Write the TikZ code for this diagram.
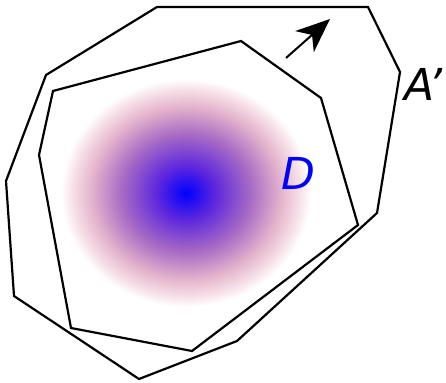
\documentclass[tikz,border=0pt]{standalone}
\usepackage{fontspec}
\setmainfont{DejaVu Sans}
\usetikzlibrary{arrows.meta}
\definecolor{dcore}{RGB}{95,40,220}
\definecolor{dmid}{RGB}{168,108,196}
\definecolor{dpink}{RGB}{228,180,204}
\definecolor{dfade}{RGB}{245,222,230}
\pgfdeclareradialshading{blob}{\pgfpoint{0bp}{0bp}}{color(0bp)=(blue); color(6bp)=(dcore); color(13bp)=(dmid); color(19bp)=(dpink); color(22.5bp)=(dfade); color(25bp)=(white); color(50bp)=(white)}
\tikzset{
  hull/.style={line width=2.2pt,line join=miter},
  push/.style={line width=2pt,-{Stealth[length=34pt 0 0,width=28pt 0 0,inset=10pt 0]}},
  lbl/.style={font=\fontsize{44}{46}\selectfont\itshape,inner sep=0pt}
}

\begin{document}
\begin{tikzpicture}[x=1pt,y=-1pt]
    \useasboundingbox (0,0) rectangle (446,382);
    \clip (0,0) rectangle (446,382);
    % region D
    \shade[shading=blob] (186,193) ellipse (125 and 114);
    % outer set A'
    \draw[hull] (157,7) -- (368,7) -- (400,72) -- (377,213) -- (237,341)
        -- (139,379) -- (14,296) -- (6,181) -- (46,75) -- cycle;
    % inner set
    \draw[hull] (53,91) -- (241,41) -- (321,98) -- (358,225) -- (192,351)
        -- (71,328) -- (39,155) -- cycle;
    \coordinate (tail) at (286,58);
    \coordinate (tip) at (330,19);
    \draw[push] (tail) -- (tip);
    \node[lbl,text=blue] (D) at (298,173) {D};
    \node[lbl,anchor=west] (Ap) at (404,84) {A'};
\end{tikzpicture}
\end{document}
